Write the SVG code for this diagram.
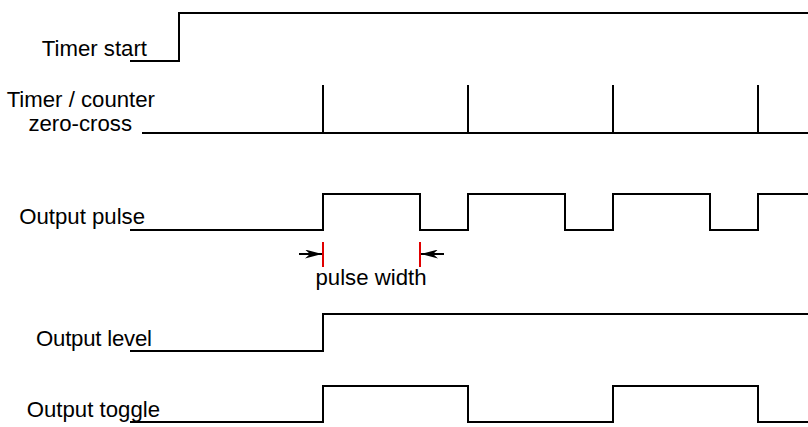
<svg xmlns="http://www.w3.org/2000/svg" width="808" height="427" viewBox="0 0 808 427">
  <style>
    .sig { fill: none; stroke: #000; stroke-width: 2; }
    .lbl { font-family: "Liberation Sans", Arial, sans-serif; font-size: 22.2px; fill: #000; }
    .mark { stroke: #e00000; stroke-width: 2; }
    .dim { stroke: #000; stroke-width: 2; }
  </style>
  <defs>
    <!-- notched arrowhead, 17 long by 9 wide, tip at the line end -->
    <marker id="arrow" viewBox="0 0 17 9" refX="17" refY="4.5" markerWidth="17" markerHeight="9" markerUnits="userSpaceOnUse" orient="auto">
      <path d="M0,0 L17,4.5 L0,9 L5,4.5 z" fill="#000"/>
    </marker>
  </defs>
  <rect width="808" height="427" fill="#fff"/>

  <g id="timer-start">
    <text class="lbl" x="147" y="56" text-anchor="end">Timer start</text>
    <path class="sig" d="M130,61 H179 V13 H808"/>
  </g>

  <g id="zero-cross">
    <text class="lbl" x="155" y="107" text-anchor="end">Timer / counter</text>
    <text class="lbl" x="132" y="131" text-anchor="end">zero-cross</text>
    <path class="sig" d="M142,133 H808 M323,85 V133 M468,85 V133 M613,85 V133 M758,85 V133"/>
  </g>

  <g id="output-pulse">
    <text class="lbl" x="145" y="224" text-anchor="end">Output pulse</text>
    <path class="sig" d="M130,230 H323 V194 H420 V230 H468 V194 H565 V230 H613 V194 H710 V230 H758 V194 H808"/>
  </g>

  <g id="pulse-width">
    <line class="mark" x1="323" y1="242" x2="323" y2="267"/>
    <line class="mark" x1="420" y1="242" x2="420" y2="267"/>
    <line class="dim" x1="299" y1="254" x2="322" y2="254" marker-end="url(#arrow)"/>
    <line class="dim" x1="444" y1="254" x2="421" y2="254" marker-end="url(#arrow)"/>
    <text class="lbl" x="371" y="285" text-anchor="middle">pulse width</text>
  </g>

  <g id="output-level">
    <text class="lbl" x="152" y="346" text-anchor="end" textLength="116">Output level</text>
    <path class="sig" d="M130,351 H323 V314 H808"/>
  </g>

  <g id="output-toggle">
    <text class="lbl" x="160" y="417" text-anchor="end">Output toggle</text>
    <path class="sig" d="M130,422 H323 V386 H468 V422 H613 V386 H758 V422 H808"/>
  </g>
</svg>
